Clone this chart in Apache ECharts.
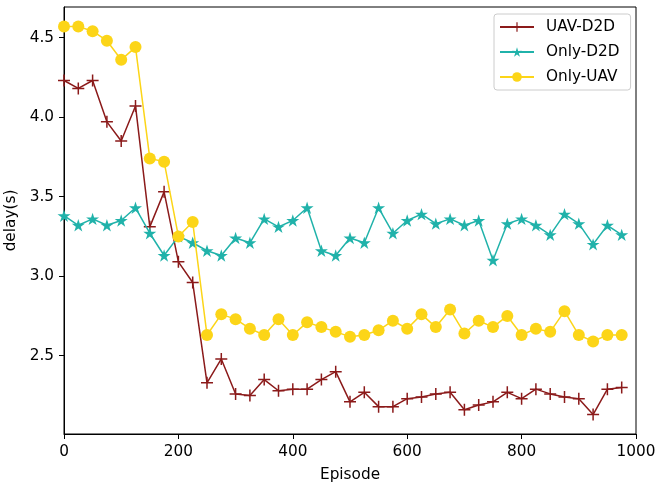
<!DOCTYPE html>
<html>
<head>
<meta charset="utf-8">
<script src="https://cdn.jsdelivr.net/npm/echarts@6/dist/echarts.min.js"></script>
<style>html,body{margin:0;padding:0;background:#fff;}#c{width:658px;height:484px;}</style>
</head>
<body>
<div id="c"></div>
<script>
const episodes = [0,25,50,75,100,125,150,175,200,225,250,275,300,325,350,375,400,425,450,475,500,525,550,575,600,625,650,675,700,725,750,775,800,825,850,875,900,925,950,975];
const uavD2D = [4.23,4.18,4.23,3.97,3.85,4.07,3.31,3.53,3.09,2.96,2.33,2.48,2.26,2.25,2.35,2.28,2.29,2.29,2.35,2.40,2.21,2.27,2.18,2.18,2.23,2.24,2.26,2.27,2.16,2.19,2.21,2.27,2.23,2.29,2.26,2.24,2.23,2.13,2.29,2.30];
const onlyD2D = [3.38,3.32,3.36,3.32,3.35,3.43,3.27,3.13,3.25,3.21,3.16,3.13,3.24,3.21,3.36,3.31,3.35,3.43,3.16,3.13,3.24,3.21,3.43,3.27,3.35,3.39,3.33,3.36,3.32,3.35,3.10,3.33,3.36,3.32,3.26,3.39,3.33,3.20,3.32,3.26];
const onlyUAV = [4.57,4.57,4.54,4.48,4.36,4.44,3.74,3.72,3.25,3.34,2.63,2.76,2.73,2.67,2.63,2.73,2.63,2.71,2.68,2.65,2.62,2.63,2.66,2.72,2.67,2.76,2.68,2.79,2.64,2.72,2.68,2.75,2.63,2.67,2.65,2.78,2.63,2.59,2.63,2.63];
const seriesNames = ['UAV-D2D','Only-D2D','Only-UAV'];
const yTicks = [2.5,3.0,3.5,4.0,4.5];
const xTicks = [0,200,400,600,800,1000];

const plusPath = 'path://M-1.5,-12H1.5V-1.5H12V1.5H1.5V12H-1.5V1.5H-12V-1.5H-1.5Z';
const starPath = 'path://M0,-100L22.3,-30.7L95.1,-30.9L36.1,11.7L58.8,80.9L0,38L-58.8,80.9L-36.1,11.7L-95.1,-30.9L-22.3,-30.7Z';
const font = 'DejaVu Sans';
const fs = 15.3;
const pair = (ys) => episodes.map((x, i) => [x, ys[i]]);

const chart = echarts.init(document.getElementById('c'), null, {renderer: 'canvas'});
chart.setOption({
  animation: false,
  backgroundColor: '#fff',
  grid: {left: 64, right: 22, top: 7, bottom: 50, show: true, borderColor: '#000', borderWidth: 1, backgroundColor: 'transparent', containLabel: false, outerBoundsMode: 'none'},
  xAxis: {
    type: 'value', min: 0, max: 1000, interval: 200,
    name: 'Episode', nameLocation: 'middle', nameGap: 34,
    nameTextStyle: {fontFamily: font, fontSize: fs, color: '#000'},
    axisLine: {show: true, lineStyle: {color: '#000', width: 1}},
    axisTick: {show: true, inside: false, length: 5, lineStyle: {color: '#000'}},
    axisLabel: {fontFamily: font, fontSize: fs, color: '#000', margin: 11, customValues: xTicks, formatter: v => String(v)},
    splitLine: {show: false}
  },
  yAxis: {
    type: 'value', min: 2.008, max: 4.692,
    name: 'delay(s)', nameLocation: 'middle', nameGap: 43,
    nameTextStyle: {fontFamily: font, fontSize: fs, color: '#000'},
    axisLine: {show: true, lineStyle: {color: '#000', width: 1}},
    axisTick: {show: true, inside: false, length: 5, lineStyle: {color: '#000'}, customValues: yTicks},
    axisLabel: {fontFamily: font, fontSize: fs, color: '#000', margin: 10, customValues: yTicks, formatter: v => v.toFixed(1)},
    splitLine: {show: false}
  },
  legend: {
    orient: 'vertical', left: 494, top: 14,
    data: seriesNames,
    itemWidth: 34, itemHeight: 12, itemGap: 7,
    padding: [4, 11, 4, 5],
    borderColor: '#ccc', borderWidth: 1, borderRadius: 3,
    backgroundColor: 'rgba(255,255,255,0.8)',
    textStyle: {fontFamily: font, fontSize: fs, color: '#000', lineHeight: 18, padding: [0, 0, 0, 7]}
  },
  series: [
    {name: seriesNames[0], type: 'line', data: pair(uavD2D), symbol: plusPath, symbolSize: 12,
     color: '#8B1A1A', lineStyle: {width: 1.5, color: '#8B1A1A'}, itemStyle: {color: '#8B1A1A'}, z: 2},
    {name: seriesNames[1], type: 'line', data: pair(onlyD2D), symbol: starPath, symbolSize: 13, symbolKeepAspect: true,
     color: '#20B2AA', lineStyle: {width: 1.5, color: '#20B2AA'}, itemStyle: {color: '#20B2AA'}, z: 3},
    {name: seriesNames[2], type: 'line', data: pair(onlyUAV), symbol: 'circle', symbolSize: 12,
     color: '#FCD518', lineStyle: {width: 1.5, color: '#FCD518'}, itemStyle: {color: '#FCD518'}, z: 4}
  ]
});
</script>
</body>
</html>
